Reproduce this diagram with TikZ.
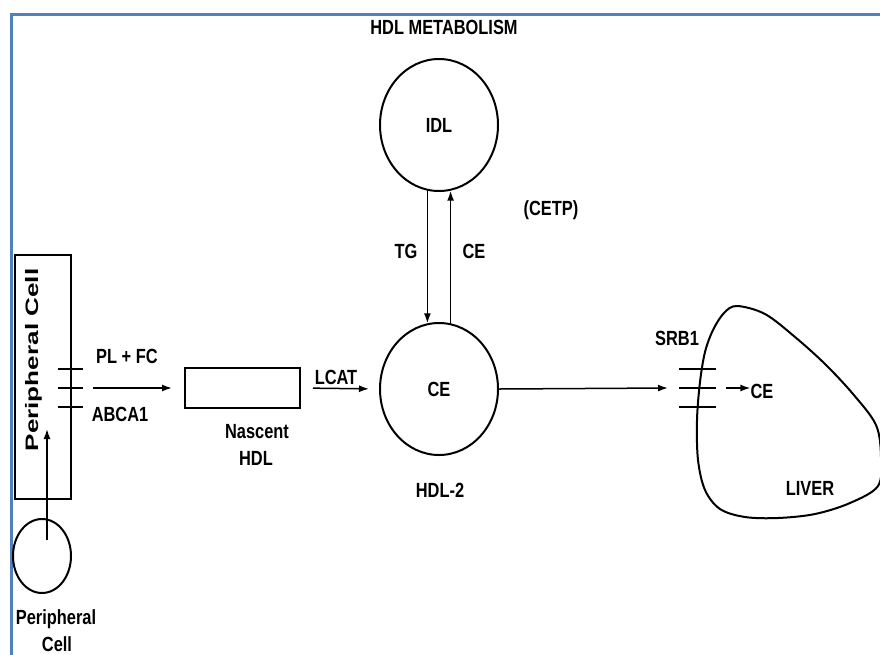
\documentclass[tikz,border=0pt]{standalone}
\usepackage{fontspec}
\setmainfont{Liberation Sans}[FakeStretch=0.8]
\newfontfamily\rotfont{Liberation Sans}[FakeStretch=1.45]
\usetikzlibrary{arrows.meta,shapes.geometric}
\definecolor{frameblue}{HTML}{4F81BD}
\begin{document}
\begin{tikzpicture}[x=1pt,y=-1pt,
  lbl/.style={font=\fontsize{20.5}{24}\selectfont\bfseries, inner sep=0pt, text height=14.6pt, text depth=0pt},
  blob/.style={draw, line width=2pt, ellipse, minimum width=118pt, minimum height=132pt, inner sep=0pt,
               font=\fontsize{20.5}{24}\selectfont\bfseries},
  arr/.style={line width=1.5pt, -{Latex[length=10pt,width=7pt]}},
  memb/.style={line width=2.8pt},
  boxshape/.style={draw, line width=2pt, inner sep=0pt},
  outline/.style={line width=2pt}]
\useasboundingbox (0,0) rectangle (880,654);
\fill[white] (0,0) rectangle (880,654);
% frame
\draw[frameblue, line width=3pt] (11,660) -- (11,14) -- (886,14);

% title
\node[lbl] (title) at (444,27) {HDL METABOLISM};

% IDL and HDL-2 particles
\node[blob] (IDL) at (439,125) {IDL};
\node[blob] (HDL2) at (439,389) {CE};
\node[lbl] (hdl2lbl) at (440,490) {HDL-2};

\draw[arr] (IDL.260) -- (HDL2.100);
\draw[arr] (HDL2.80) -- (IDL.280);
\node[lbl] (tg) at (406,251) {TG};
\node[lbl] (ceup) at (474,251) {CE};
\node[lbl] (cetp) at (551,208) {(CETP)};

% peripheral cell
\node[boxshape, minimum width=56pt, minimum height=244pt] (PCbox) at (43,377) {};
\node[rotate=90, anchor=base, inner sep=0pt, font=\rotfont\fontsize{18}{20}\selectfont\bfseries] (PCtext) at (38,360) {Peripheral Cell};
\node[draw, ellipse, line width=2pt, minimum width=58pt, minimum height=74pt, inner sep=0pt] (pcirc) at (42,556) {};
\coordinate (pcup) at (47,429);
\draw[arr] ([xshift=5pt,yshift=16pt]pcirc.center) -- (pcup);
\node[lbl] (per1) at (56,617) {Peripheral};
\node[lbl] (per2) at (57,644) {Cell};

% ABCA1 transporter
\draw[memb] (58,369) -- (83,369);
\draw[memb] (58,388) -- (83,388);
\draw[memb] (58,407) -- (83,407);
\node[lbl] (plfc) at (127,356) {PL + FC};
\node[lbl] (abca) at (120,414) {ABCA1};

% nascent HDL
\node[boxshape, minimum width=115pt, minimum height=40pt] (NHDL) at (242.5,388) {};
\node[lbl] (nasc1) at (257,431) {Nascent};
\node[lbl] (nasc2) at (256,458) {HDL};
\coordinate (abcaout) at (93,388);
\draw[arr, shorten >=12pt] (abcaout) -- (NHDL.west);

% LCAT
\node[lbl] (lcat) at (336,377) {LCAT};
\draw[arr, shorten <=12pt, shorten >=10pt] (NHDL.east) -- (HDL2.west);

% liver
\draw[outline] plot[smooth cycle, tension=0.55] coordinates {
  (737,306) (765,314) (795,337) (825,364) (853,394) (876,425) (881,457) (878,486)
  (850,503) (815,514) (778,518) (745,517) (720,509) (705,490) (698,460) (697,420)
  (700,382) (705,352) (713,330) (724,313)};
\node[lbl] (liver) at (810,488) {LIVER};
\node[lbl] (srb) at (677,338) {SRB1};
\draw[memb] (679,369) -- (716,369);
\draw[memb] (679,388) -- (716,388);
\draw[memb] (679,407) -- (716,407);
\coordinate (srbin) at (668,388);
\draw[arr] (HDL2.east) -- (srbin);
\node[lbl] (celiver) at (762,391) {CE};
\coordinate (ceA) at (726,388);
\draw[arr] (ceA) -- (ceA -| celiver.west);
\end{tikzpicture}
\end{document}
